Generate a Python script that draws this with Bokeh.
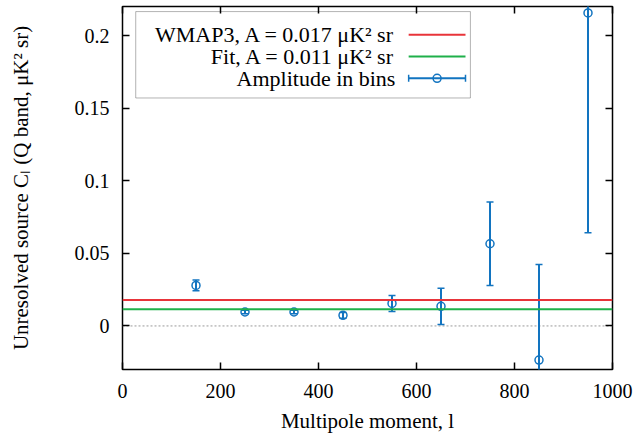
from bokeh.plotting import figure
from bokeh.models import (ColumnDataSource, Range1d, LinearAxis, FixedTicker, Span,
                          BoxAnnotation, Label, CustomLabelingPolicy)
from bokeh.embed import file_html
from bokeh.resources import INLINE

# ---- data ----
ell = [150, 250, 350, 450, 550, 650, 750, 850, 950]
amp = [0.0279, 0.0096, 0.0096, 0.0073, 0.0155, 0.0135, 0.0566, -0.0235, 0.2156]
err = [0.0037, 0.0012, 0.0012, 0.0020, 0.0055, 0.0125, 0.0288, 0.0658, 0.1514]
wmap3_amp = 0.0178
fit_amp = 0.0115
x_ticks = [0, 200, 400, 600, 800, 1000]
y_ticks = [0, 0.05, 0.1, 0.15, 0.2]
y_tick_labels = ["0", "0.05", "0.1", "0.15", "0.2"]
legend_labels = ["WMAP3, A = 0.017 \u03bcK\u00b2 sr", "Fit, A = 0.011 \u03bcK\u00b2 sr", "Amplitude in bins"]

BLUE = "#1274c0"
RED = "#e8343a"
GREEN = "#1fb04a"
FONT = "Liberation Serif"

src = ColumnDataSource(dict(
    x=ell, y=amp,
    lo=[a - e for a, e in zip(amp, err)],
    hi=[a + e for a, e in zip(amp, err)],
))

p = figure(width=637, height=438, output_backend="svg", toolbar_location=None,
           x_range=Range1d(0, 1000), y_range=Range1d(-0.03, 0.22),
           min_border_left=122, min_border_right=25, min_border_top=6, min_border_bottom=69)
p.xgrid.visible = False
p.ygrid.visible = False
p.outline_line_color = "black"
p.outline_line_width = 1.5
p.background_fill_color = "white"

# reference lines
p.add_layout(Span(location=0, dimension="width", line_color="#999999", line_dash="2 2",
                  line_width=1, level="underlay"))
p.add_layout(Span(location=wmap3_amp, dimension="width", line_color=RED, line_width=2))
p.add_layout(Span(location=fit_amp, dimension="width", line_color=GREEN, line_width=2))

# error bars
p.segment(x0="x", y0="lo", x1="x", y1="hi", source=src, line_color=BLUE, line_width=2)
p.scatter(x="x", y="lo", source=src, marker="dash", size=7, line_color=BLUE, line_width=1.5)
p.scatter(x="x", y="hi", source=src, marker="dash", size=7, line_color=BLUE, line_width=1.5)
p.scatter(x="x", y="y", source=src, marker="circle", size=8, line_color=BLUE, line_width=1.5,
          fill_color=None)

hide_labels = CustomLabelingPolicy(code="""
try {
  const r = indices.clone();
  for (let i = 0; i < r.size; i++) r.set(i, false);
  return r;
} catch (e) { return indices; }
""")

def style_axis(ax, labels=True):
    ax.axis_line_color = None
    ax.major_tick_in = 7
    ax.major_tick_out = 0
    ax.minor_tick_line_color = None
    ax.major_tick_line_color = "black"
    ax.major_tick_line_width = 1.5
    ax.major_label_text_font = FONT
    ax.major_label_text_font_size = "20px"
    ax.major_label_text_color = "black"
    ax.axis_label_text_font = FONT
    ax.axis_label_text_font_size = "21px"
    ax.axis_label_text_font_style = "normal"
    ax.axis_label_text_color = "black"
    if not labels:
        ax.major_label_policy = hide_labels
        ax.major_label_standoff = 0
        ax.major_label_text_font_size = "1px"

xa = p.xaxis[0]
ya = p.yaxis[0]
xa.ticker = FixedTicker(ticks=x_ticks)
ya.ticker = FixedTicker(ticks=y_ticks)
ya.major_label_overrides = {t: l for t, l in zip(y_ticks, y_tick_labels)}
style_axis(xa)
style_axis(ya)
xa.axis_label = "Multipole moment, l"
ya.axis_label = "Unresolved source C\u2097 (Q band, \u03bcK\u00b2 sr)"
xa.major_label_standoff = 14
xa.axis_label_standoff = 8
ya.major_label_standoff = 13
ya.axis_label_standoff = 39

top = LinearAxis(ticker=FixedTicker(ticks=x_ticks))
right = LinearAxis(ticker=FixedTicker(ticks=y_ticks))
style_axis(top, labels=False)
style_axis(right, labels=False)
p.add_layout(top, "above")
p.add_layout(right, "right")

# legend (drawn manually: labels right-aligned, samples to the right)
p.add_layout(BoxAnnotation(left=27, right=710, top=0.2165, bottom=0.157, level="underlay",
                           fill_color="white", fill_alpha=1, line_color="black", line_width=1))
rows_y = [0.2005, 0.1855, 0.1705]
for lab, yy in zip(legend_labels, rows_y):
    p.add_layout(Label(x=557, y=yy, text=lab, text_align="right", text_baseline="middle",
                       text_font=FONT, text_font_size="22px", text_color="black"))
p.line([584, 700], [rows_y[0], rows_y[0]], line_color=RED, line_width=2)
p.line([584, 700], [rows_y[1], rows_y[1]], line_color=GREEN, line_width=2)
p.line([584, 700], [rows_y[2], rows_y[2]], line_color=BLUE, line_width=2)
p.scatter([584, 700], [rows_y[2], rows_y[2]], marker="dash", angle=1.5708, size=7,
          line_color=BLUE, line_width=1.5)
p.scatter([642], [rows_y[2]], marker="circle", size=8, line_color=BLUE, line_width=1.5, fill_color=None)

open("out.html", "w").write(file_html(p, INLINE))
